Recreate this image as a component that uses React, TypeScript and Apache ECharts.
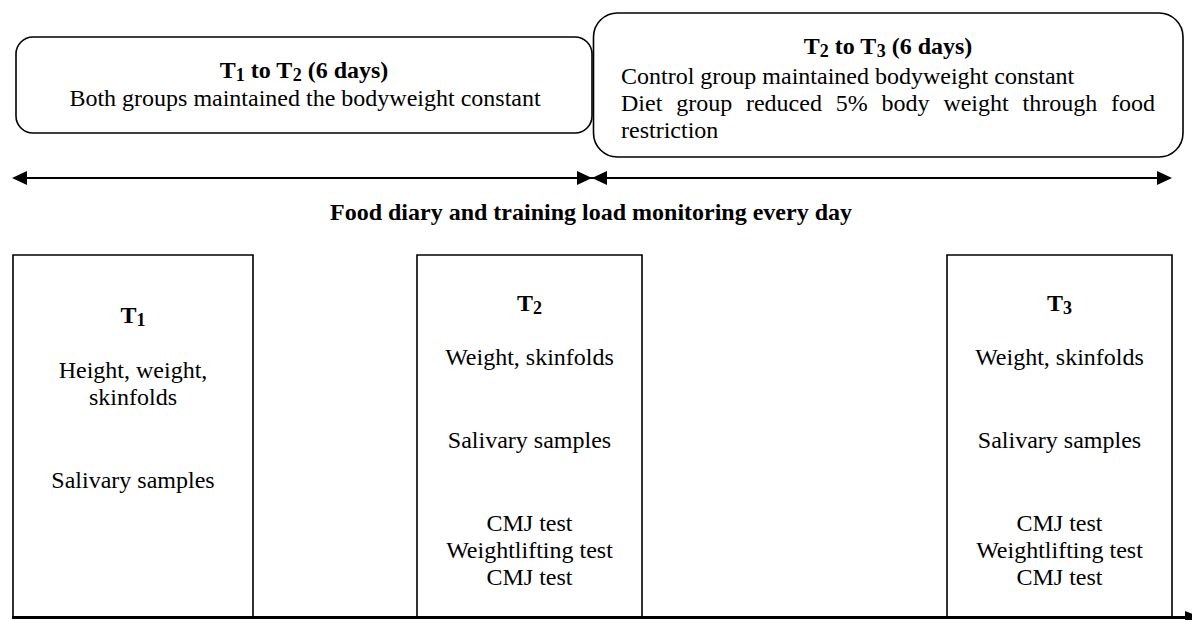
import React, { useEffect, useRef } from "react";
import * as echarts from "echarts";

const FONT = "Liberation Serif, Times New Roman, serif";

// ---- texts of the diagram ----
const phase1Title = ["T", "1", " to T", "2", " (6 days)"];
const phase1Lines = ["Both groups maintained the bodyweight constant"];
const phase2Title = ["T", "2", " to T", "3", " (6 days)"];
const phase2Lines = [
  "Control group maintained bodyweight constant",
  "Diet group reduced 5% body weight through food",
  "restriction",
];
const timelineLabel = "Food diary and training load monitoring every day";
const timepointIndex = ["1", "2", "3"];
const t1Items = ["Height, weight,", "skinfolds", "Salivary samples"];
const t2Items = ["Weight, skinfolds", "Salivary samples", "CMJ test", "Weightlifting test", "CMJ test"];
const t3Items = ["Weight, skinfolds", "Salivary samples", "CMJ test", "Weightlifting test", "CMJ test"];

const MAIN_SIZE = 24;
const SUB_SIZE = 18;

let measureCtx: CanvasRenderingContext2D | null = null;
function measure(text: string, font: string) {
  if (!measureCtx) measureCtx = document.createElement("canvas").getContext("2d")!;
  measureCtx.font = font;
  return measureCtx.measureText(text).width;
}

// bold title with subscripts, parts alternate main / subscript
function subTitle(parts: string[], cx: number, y: number) {
  const widths = parts.map((p, i) =>
    measure(p, `bold ${i % 2 === 1 ? SUB_SIZE : MAIN_SIZE}px ${FONT}`)
  );
  const total = widths.reduce((a, b) => a + b, 0);
  let x = cx - total / 2;
  return parts.map((p, i) => {
    const isSub = i % 2 === 1;
    const el = {
      type: "text",
      x,
      y: isSub ? y + 5 : y,
      style: {
        text: p,
        fontFamily: FONT,
        fontWeight: "bold",
        fontSize: isSub ? SUB_SIZE : MAIN_SIZE,
        fill: "#000",
        align: "left",
        verticalAlign: "middle",
      },
    };
    x += widths[i];
    return el;
  });
}

function justified(text: string, x0: number, x1: number, y: number) {
  const words = text.split(" ");
  const font = `${MAIN_SIZE}px ${FONT}`;
  const widths = words.map((w) => measure(w, font));
  const total = widths.reduce((a, b) => a + b, 0);
  const gap = (x1 - x0 - total) / (words.length - 1);
  let x = x0;
  return words.map((w, i) => {
    const el = {
      type: "text",
      x,
      y,
      style: { text: w, fontFamily: FONT, fontSize: MAIN_SIZE, fill: "#000", align: "left", verticalAlign: "middle" },
    };
    x += widths[i] + gap;
    return el;
  });
}

function txt(text: string, x: number, y: number, opts: any = {}) {
  return {
    type: "text",
    x,
    y,
    style: {
      text,
      fontFamily: FONT,
      fontSize: MAIN_SIZE,
      fill: "#000",
      align: "center",
      verticalAlign: "middle",
      ...opts,
    },
  };
}

function tri(points: number[][]) {
  return { type: "polygon", shape: { points }, style: { fill: "#000" } };
}

export default function App() {
  const ref = useRef<HTMLDivElement>(null);
  useEffect(() => {
    document.body.style.margin = "0";
    const chart = echarts.init(ref.current!, null, { renderer: "svg" });
    const els: any[] = [];

    // top rounded boxes
    els.push({
      type: "rect",
      shape: { x: 16, y: 37, width: 576, height: 96, r: 17 },
      style: { fill: "#fff", stroke: "#000", lineWidth: 1.6 },
    });
    els.push({
      type: "rect",
      shape: { x: 593.5, y: 13, width: 589.5, height: 144, r: 24 },
      style: { fill: "#fff", stroke: "#000", lineWidth: 1.6 },
    });
    subTitle(phase1Title, 304, 70).forEach((e) => els.push(e));
    els.push(txt(phase1Lines[0], 305, 98));
    subTitle(phase2Title, 888, 46).forEach((e) => els.push(e));
    els.push(txt(phase2Lines[0], 621, 76, { align: "left" }));
    justified(phase2Lines[1], 621, 1155, 103).forEach((e) => els.push(e));
    els.push(txt(phase2Lines[2], 621, 130, { align: "left" }));

    // double arrows
    const ay = 178;
    els.push({ type: "line", shape: { x1: 20, y1: ay, x2: 1164, y2: ay }, style: { stroke: "#000", lineWidth: 2.2 } });
    els.push(tri([[12, ay], [27, ay - 7], [27, ay + 7]]));
    els.push(tri([[577, ay - 7], [592, ay], [577, ay + 7]]));
    els.push(tri([[607, ay - 7], [592, ay], [607, ay + 7]]));
    els.push(tri([[1172, ay], [1157, ay - 7], [1157, ay + 7]]));
    els.push(txt(timelineLabel, 591, 212, { fontWeight: "bold" }));

    // bottom boxes
    const boxTop = 255;
    const boxBottom = 617;
    const boxes = [
      { x: 13, w: 240, items: t1Items, titleY: 315, ys: [370, 397, 480] },
      { x: 417, w: 225, items: t2Items, titleY: 303, ys: [357, 440, 523, 550, 577] },
      { x: 947, w: 225, items: t3Items, titleY: 303, ys: [357, 440, 523, 550, 577] },
    ];
    boxes.forEach((b, i) => {
      els.push({
        type: "rect",
        shape: { x: b.x, y: boxTop, width: b.w, height: boxBottom - boxTop },
        style: { fill: "#fff", stroke: "#000", lineWidth: 1.6 },
      });
      const cx = b.x + b.w / 2;
      subTitle(["T", timepointIndex[i]], cx, b.titleY).forEach((e) => els.push(e));
      b.items.forEach((t, j) => els.push(txt(t, cx, b.ys[j])));
    });

    // bottom time axis
    els.push({ type: "line", shape: { x1: 12, y1: 617.5, x2: 1192, y2: 617.5 }, style: { stroke: "#000", lineWidth: 3 } });
    els.push(tri([[1185, 611], [1201, 617.5], [1185, 624]]));

    chart.setOption({
      animation: false,
      backgroundColor: "#fff",
      graphic: { elements: els },
    });
    return () => chart.dispose();
  }, []);
  return <div ref={ref} style={{ width: 1192, height: 620 }} />;
}
